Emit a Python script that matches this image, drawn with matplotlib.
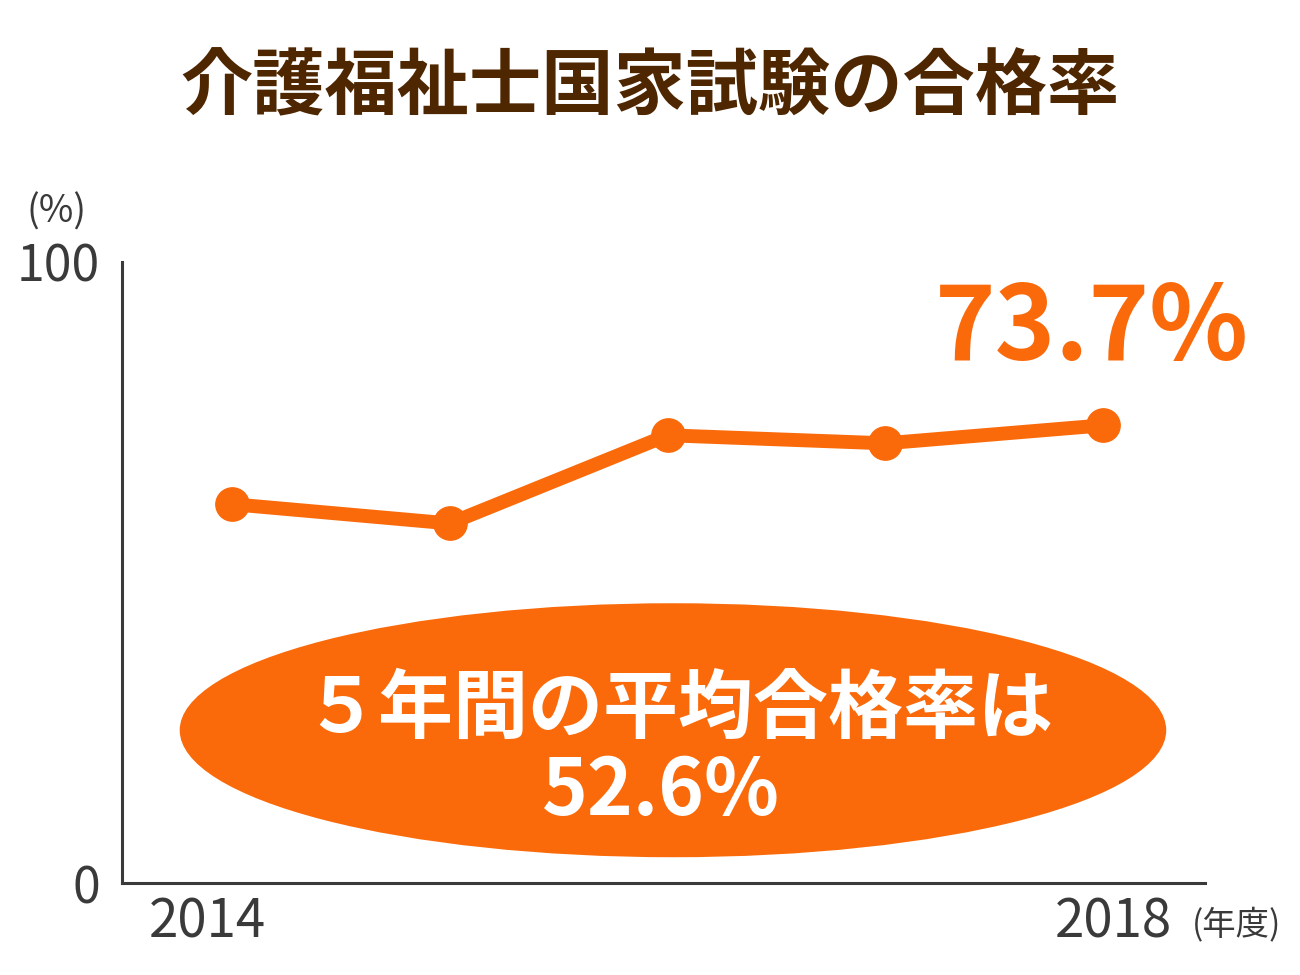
import matplotlib
matplotlib.use("Agg")
import matplotlib.pyplot as plt
from matplotlib.patches import Ellipse
from matplotlib.transforms import ScaledTranslation

plt.rcParams['font.family'] = ['Noto Sans CJK JP', 'DejaVu Sans']

# data
years = [2014, 2015, 2016, 2017, 2018]
pass_rate = [61.0, 57.9, 72.1, 70.8, 73.7]
xtick_years = [2014, 2018]
yticks = [0, 100]

title = "介護福祉士国家試験の合格率"
avg_line1 = "５年間の平均合格率は"
avg_line2 = "52.6%"
last_label = "73.7%"

orange = '#FA6A0A'
brown = '#4E2600'
gray = '#3a3a3a'

fig = plt.figure(figsize=(13, 9.75), dpi=100)
ax = fig.add_axes([122 / 1300, 1 - 883 / 975, (1205 - 122) / 1300, (883 - 262) / 975])

ax.plot(years, pass_rate, color=orange, lw=10, marker='o', ms=24,
        solid_joinstyle='round', zorder=3)

ax.set_xlim(2013.495, 2018.468)
ax.set_ylim(0, 100)

for s in ['top', 'right']:
    ax.spines[s].set_visible(False)
for s in ['left', 'bottom']:
    ax.spines[s].set_color(gray)
    ax.spines[s].set_linewidth(2.2)

ax.set_yticks(yticks)
ax.set_yticklabels([str(v) for v in yticks], fontsize=36, color=gray)
ax.tick_params(axis='y', length=0, pad=16)
ax.set_xticks(xtick_years)
ax.set_xticklabels([str(v) for v in xtick_years], fontsize=38, color=gray)
ax.tick_params(axis='x', length=0, pad=8)
shifts = [-25, 10]
for lab, dx in zip(ax.get_xticklabels(), shifts):
    lab.set_transform(lab.get_transform() + ScaledTranslation(dx / 100, 0, fig.dpi_scale_trans))

# unit labels
fig.text(57 / 1300, 1 - 212 / 975, "(%)", fontsize=27, color=gray, ha='center', va='center')
fig.text(1237 / 1300, 1 - 925 / 975, "(年度)", fontsize=24, color=gray, ha='center', va='center')

# title
fig.text(650 / 1300, 1 - 88 / 975, title, fontsize=52, fontweight='bold',
         color=brown, ha='center', va='center')

# highlight value
ax.text(years[-1] + 0.67, pass_rate[-1] + 10.5, last_label, fontsize=74, fontweight='bold',
        color=orange, ha='right', va='baseline')

# average ellipse
ell = Ellipse((2016.025, 24.6), 4.53, 40.9, facecolor=orange, edgecolor='none', zorder=2)
ax.add_patch(ell)
ax.text(2016.05, 27.9, avg_line1, fontsize=54, fontweight='bold', color='white',
        ha='center', va='center', zorder=4)
ax.text(2015.97, 14.6, avg_line2, fontsize=56, fontweight='bold', color='white',
        ha='center', va='center', zorder=4)

fig.savefig("out.png", dpi=100, facecolor='white')
